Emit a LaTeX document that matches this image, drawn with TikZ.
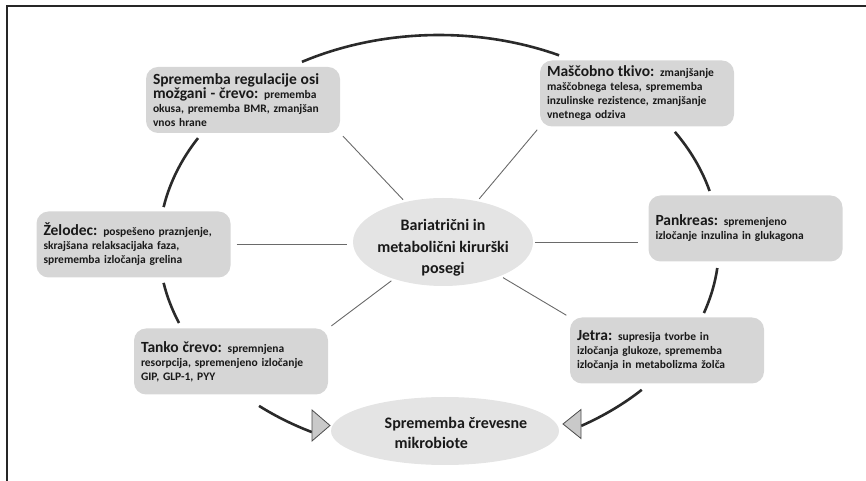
\documentclass[tikz,border=0pt]{standalone}
\usepackage{fontspec}
\setmainfont{Carlito}
\usetikzlibrary{shapes.geometric}
\definecolor{boxgray}{HTML}{D6D6D6}
\definecolor{ovalgray}{HTML}{E4E4E4}
\definecolor{ringgray}{HTML}{2A2A2A}
\definecolor{spokegray}{HTML}{6A6A6A}
\definecolor{tipgray}{HTML}{C9C9C9}
\newcommand{\hd}[1]{{\fontsize{15.5}{18}\selectfont #1}}
\newcommand{\ringarc}[2]{\draw[ring] (ring) ++(#1:280 and 210) arc[start angle=#1,end angle=#2,x radius=280,y radius=210];}
\begin{document}
\begin{tikzpicture}[x=1pt,y=1pt,
  effect/.style={fill=boxgray,rounded corners=12pt,text width=180pt,inner xsep=7pt,inner ysep=3pt,
    minimum height=66pt,align=left,text=black!90,font=\fontsize{11.5}{14}\selectfont\bfseries},
  oval/.style={ellipse,fill=ovalgray,inner sep=0pt},
  ovaltext/.style={align=center,text=black!90,font=\fontsize{16}{21.5}\selectfont\bfseries},
  spoke/.style={spokegray,line width=0.9pt,shorten <=3pt,shorten >=4pt},
  ring/.style={ringgray,line width=2.6pt},
  tip/.style={fill=tipgray,draw=gray!60!black,line width=0.8pt}]
  \useasboundingbox (0,0) rectangle (866,481);
  \draw[black!85,line width=1.2pt] (7,0) -- (7,475) -- (866,475);
  % outer ring
  \coordinate (ring) at (439,236);
  \ringarc{64.6}{119.3}
  \ringarc{149.4}{169.6}
  \ringarc{190.4}{201.8}
  \ringarc{230}{243}
  \ringarc{316.4}{300.5}
  \ringarc{341.1}{353.7}
  \ringarc{14.9}{32.6}
  % centre and bottom ovals
  \node[oval,minimum width=180pt,minimum height=88pt] (hub) at (443,239) {};
  \node[ovaltext] (hubtext) at (443,233) {Bariatrični in\\metabolični kirurški\\posegi};
  \node[oval,minimum width=228pt,minimum height=68pt] (flora) at (445,50) {};
  \node[ovaltext,align=left,font=\fontsize{16}{20}\selectfont\bfseries] (floratext) at (456,48)
    {Sprememba črevesne\\\hspace*{10pt}mikrobiote};
  % effect boxes
  \node[effect] (brain) at (243,381) {\hd{Sprememba regulacije osi}\\\hd{možgani - črevo:} prememba\\okusa, prememba BMR, zmanjšan\\vnos hrane};
  \node[effect] (fat) at (637,387.5) {\hd{Maščobno tkivo:} zmanjšanje\\maščobnega telesa, sprememba\\inzulinske rezistence, zmanjšanje\\vnetnega odziva};
  \node[effect] (stomach) at (133.5,236.5) {\hd{Želodec:} pospešeno praznjenje,\\skrajšana relaksacijaka faza,\\sprememba izločanja grelina};
  \node[effect] (pancreas) at (745.5,252.5) {\hd{Pankreas:} spremenjeno\\izločanje inzulina in glukagona};
  \node[effect] (intestine) at (231,119.5) {\hd{Tanko črevo:} spremnjena\\resorpcija, spremenjeno izločanje\\GIP, GLP-1, PYY};
  \node[effect] (liver) at (667,130.5) {\hd{Jetra:} supresija tvorbe in\\izločanja glukoze, sprememba\\izločanja in metabolizma žolča};
  % spokes
  \draw[spoke] (hub) -- (brain.south east);
  \draw[spoke] (hub) -- (fat.south west);
  \draw[spoke] (hub) -- (intestine.north east);
  \draw[spoke] (hub) -- (liver.north west);
  \draw[spoke,shorten <=6pt,shorten >=6pt] (stomach.east) -- (stomach.east -| hub.west);
  \draw[spoke,shorten <=2pt,shorten >=10pt] (hub.east) -- (hub.east -| pancreas.west);
  % arrow heads into the bottom oval
  \coordinate (tipL) at (312,55.5);
  \coordinate (tipR) at (581,57);
  \draw[tip] (tipL) ++(0,15.5) -- ++(18,-15.5) -- ++(-18,-15.5) -- cycle;
  \draw[tip] (tipR) ++(0,14.5) -- ++(-18,-14.5) -- ++(18,-14.5) -- cycle;
\end{tikzpicture}
\end{document}
